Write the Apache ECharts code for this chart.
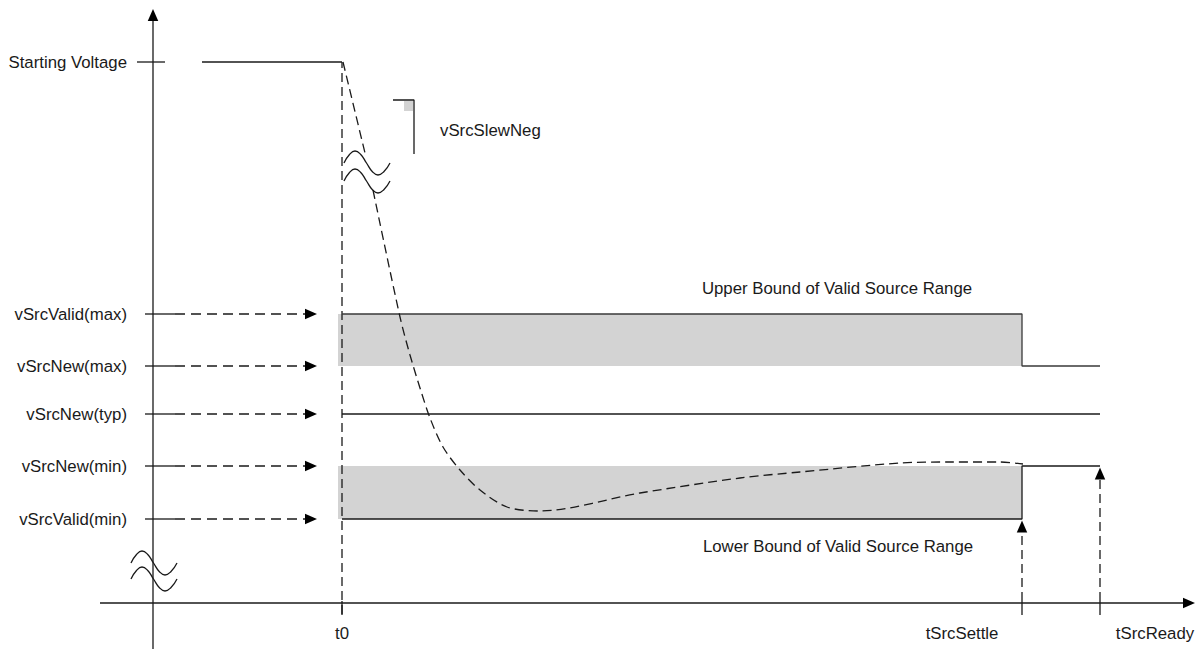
<!DOCTYPE html>
<html><head><meta charset="utf-8">
<script src="https://cdn.jsdelivr.net/npm/echarts@6/dist/echarts.min.js"></script>
<style>html,body{margin:0;padding:0;background:#fff}#c{width:1196px;height:649px}</style>
</head><body><div id="c"></div>
<script>
// ---------- data (arbitrary diagram units: time → x, voltage → y) ----------
const levelNames  = ['Starting Voltage', 'vSrcValid(max)', 'vSrcNew(max)', 'vSrcNew(typ)', 'vSrcNew(min)', 'vSrcValid(min)'];
const levelValues = [541, 289, 237, 189, 137, 84];
const timeNames   = ['t0', 'tSrcSettle', 'tSrcReady'];
const timeValues  = [0, 680, 758];
const timeLabelShift = [0, -60, 55];
// dashed source-voltage response (above and below the break)
const responseHead = [[1, 541], [23, 450]];
const responseTail = [[31, 413], [58, 286], [68, 248], [78, 215], [88, 185], [101, 156], [118, 133], [138, 113], [165, 96], [198, 92], [298, 110], [398, 125], [458, 131], [558, 140], [608, 141], [658, 141], [681, 139]];
// break symbol shape and where the breaks sit
const waveShape  = [[0, 0], [5.5, 8.5], [11, 12], [16.75, 8.5], [22.5, 0], [28.25, -8.5], [34, -12], [40, -8.5], [46, 0]];
const waveStarts = [[2, 440], [2, 422], [-211, 40], [-211, 24]];
// vSrcSlewNeg marker
const slewBracket = [[51, 503], [72, 503], [72, 449]];
const slewSquare  = [62, 71, 492, 502];
const slewLabel   = ['vSrcSlewNeg', 98, 473];
const bandLabels  = [['Upper Bound of Valid Source Range', 495, 315], ['Lower Bound of Valid Source Range', 496, 57]];
// axes extents
const yAxisAt = -189, yAxisRange = [-46, 594];
const xAxisRange = [-242, 853];
const bandStart = -4;

// ---------- build ----------
const INK = '#1a1a1a';
const FONT = '16.8px "Liberation Sans", Arial, sans-serif';
const series = [];
const lvl = n => levelValues[levelNames.indexOf(n)];
const tm  = n => timeValues[timeNames.indexOf(n)];

function seg(pts, dashed, extra) {
  series.push(Object.assign({
    type: 'line', data: pts, symbol: 'none', silent: true, animation: false, z: 3,
    lineStyle: { color: INK, width: 1.3, type: dashed ? dashed : 'solid' }
  }, extra || {}));
}

// gray bands
const rects = [
  [bandStart, tm('tSrcSettle'), lvl('vSrcNew(max)'), lvl('vSrcValid(max)')],
  [bandStart, tm('tSrcSettle'), lvl('vSrcValid(min)'), lvl('vSrcNew(min)')],
  slewSquare
];
series.push({
  type: 'custom', data: rects, silent: true, animation: false, z: 1,
  renderItem(params, api) {
    const a = api.coord([api.value(0), api.value(3)]);
    const b = api.coord([api.value(1), api.value(2)]);
    return { type: 'rect', shape: { x: a[0], y: a[1], width: b[0] - a[0], height: b[1] - a[1] }, style: { fill: '#d3d3d3' } };
  }
});

// axes lines
seg([[yAxisAt, yAxisRange[0]], [yAxisAt, yAxisRange[1] - 10]]);
seg([[xAxisRange[0], 0], [xAxisRange[1] - 9, 0]]);

// Starting voltage tick and line
const sv = lvl('Starting Voltage');
seg([[yAxisAt - 16, sv], [yAxisAt + 12, sv]]);
seg([[yAxisAt + 49, sv], [tm('t0'), sv]]);

// level arrows from y axis to t0
const arrows = [];
for (let i = 1; i < levelNames.length; i++) {
  const v = levelValues[i];
  seg([[yAxisAt - 8, v], [yAxisAt + 22, v]]);
  seg([[yAxisAt + 22, v], [tm('t0') - 37, v]], [10, 6]);
  arrows.push([tm('t0') - 25, v, 0]);
}

// time ticks and dashed verticals
timeValues.forEach(t => seg([[t, -12], [t, 2]]));
seg([[tm('t0'), -11], [tm('t0'), sv]], [9, 5]);
seg([[tm('tSrcSettle'), 2], [tm('tSrcSettle'), lvl('vSrcValid(min)') - 12]], [9, 5]);
arrows.push([tm('tSrcSettle'), lvl('vSrcValid(min)') - 1.5, 90]);
seg([[tm('tSrcReady'), 2], [tm('tSrcReady'), lvl('vSrcNew(min)') - 12]], [9, 5]);
arrows.push([tm('tSrcReady'), lvl('vSrcNew(min)') - 1.5, 90]);
// axis arrows
arrows.push([yAxisAt, yAxisRange[1], 90]);
arrows.push([xAxisRange[1], 0, 0]);

// range boundaries
seg([[tm('t0'), lvl('vSrcValid(max)')], [tm('tSrcSettle'), lvl('vSrcValid(max)')], [tm('tSrcSettle'), lvl('vSrcNew(max)')], [tm('tSrcReady'), lvl('vSrcNew(max)')]], null, { lineStyle: { color: '#3a3a3a', width: 1.3 } });
seg([[tm('t0'), lvl('vSrcNew(typ)')], [tm('tSrcReady'), lvl('vSrcNew(typ)')]]);
seg([[tm('t0'), lvl('vSrcValid(min)')], [tm('tSrcSettle'), lvl('vSrcValid(min)')], [tm('tSrcSettle'), lvl('vSrcNew(min)')], [tm('tSrcReady'), lvl('vSrcNew(min)')]]);

// response curve
seg(responseHead, [9, 5]);
seg(responseTail, [9, 5], { smooth: 0.3 });

// break symbols
waveStarts.forEach(s => seg(waveShape.map(p => [s[0] + p[0], s[1] + p[1]]), null, { smooth: 0.5 }));

// slew marker
seg(slewBracket);

// arrow heads
series.push({
  type: 'custom', data: arrows, silent: true, animation: false, z: 5,
  renderItem(params, api) {
    const p = api.coord([api.value(0), api.value(1)]);
    const ang = api.value(2) * Math.PI / 180;
    const dx = Math.cos(ang), dy = -Math.sin(ang);
    const L = 12, W = 10.5;
    const bx = p[0] - dx * L, by = p[1] - dy * L;
    const px = -dy, py = dx;
    return { type: 'polygon', shape: { points: [[p[0], p[1]], [bx + px * W / 2, by + py * W / 2], [bx - px * W / 2, by - py * W / 2]] }, style: { fill: '#000' } };
  }
});

// texts
const texts = [];
levelNames.forEach((n, i) => texts.push([n, yAxisAt - 26, levelValues[i], 'right']));
timeNames.forEach((n, i) => texts.push([n, timeValues[i] + timeLabelShift[i], -30, 'center']));
bandLabels.forEach(b => texts.push([b[0], b[1], b[2], 'center']));
texts.push([slewLabel[0], slewLabel[1], slewLabel[2], 'left']);
series.push({
  type: 'custom', data: texts.map(t => [t[1], t[2]]), silent: true, animation: false, z: 6,
  renderItem(params, api) {
    const t = texts[params.dataIndex];
    const p = api.coord([api.value(0), api.value(1)]);
    return { type: 'text', x: p[0], y: p[1], style: { text: t[0], fill: '#1a1a1a', font: FONT, align: t[3], verticalAlign: 'middle' } };
  }
});

const chart = echarts.init(document.getElementById('c'), null, { renderer: 'svg' });
chart.setOption({
  animation: false,
  backgroundColor: '#fff',
  grid: { left: 0, right: 0, top: 0, bottom: 0 },
  xAxis: { type: 'value', min: -342, max: 854, show: false },
  yAxis: { type: 'value', min: -46, max: 603, show: false },
  series
});
</script></body></html>
